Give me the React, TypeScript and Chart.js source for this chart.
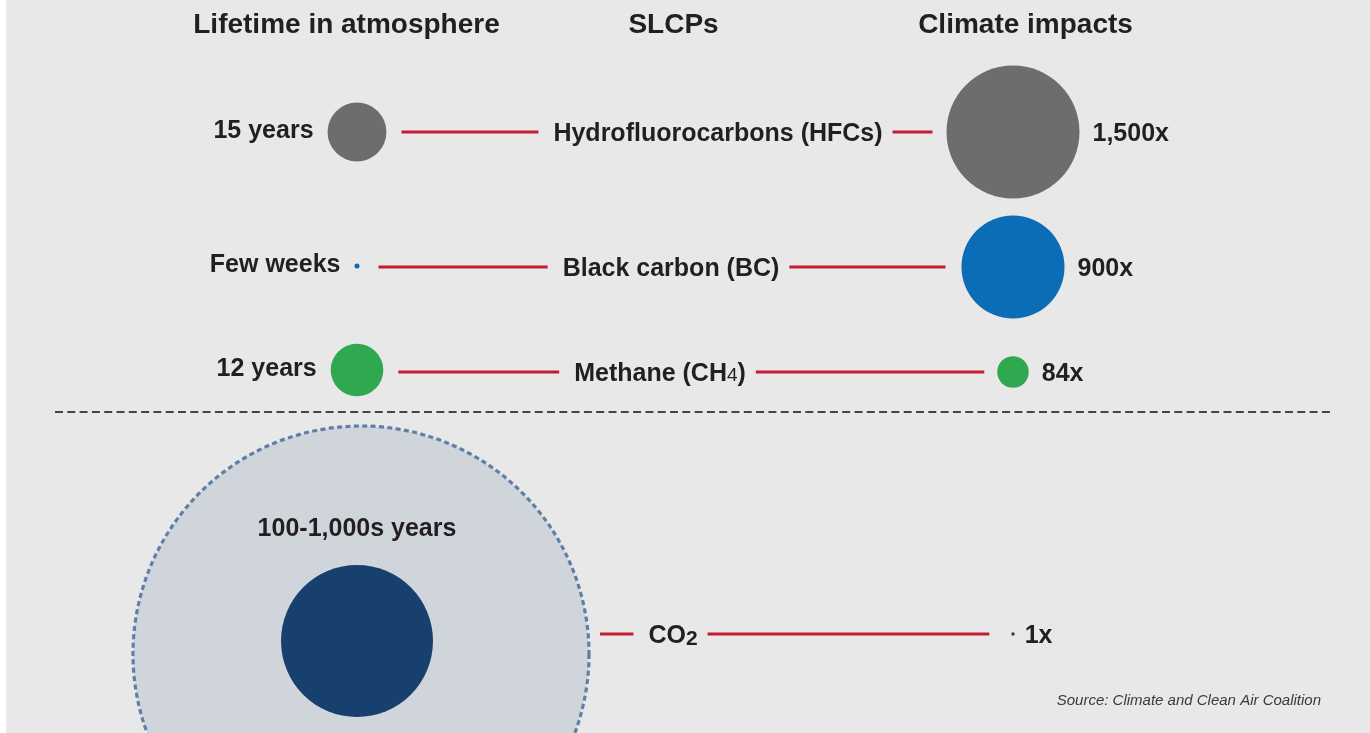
import React, { useEffect, useRef } from 'react';
import { Chart, registerables } from 'chart.js';

Chart.register(...registerables);

// ---------- data ----------
const headers = ['Lifetime in atmosphere', 'SLCPs', 'Climate impacts'];
const slcpNames = ['Hydrofluorocarbons (HFCs)', 'Black carbon (BC)', 'Methane (CH', 'CO'];
const slcpSubscripts = ['', '', '4', '2'];
const slcpSuffixes = ['', '', ')', ''];
const lifetimeLabels = ['15 years', 'Few weeks', '12 years', '100-1,000s years'];
const lifetimeYears = [15, 0.11, 12, 100];
const co2LifetimeMaxYears = 900;
const impactValues = [1500, 900, 84, 1];
const impactLabels = ['1,500x', '900x', '84x', '1x'];
const sourceText = 'Source: Climate and Clean Air Coalition';

// ---------- layout & style ----------
const W = 1370;
const H = 733;
const BG_LEFT = 6;
const COL_LIFE_PX = 357;
const COL_IMPACT_PX = 1013;
const COL_SPAN = COL_IMPACT_PX - COL_LIFE_PX;
const ROW_Y = [132, 267, 372, 634];
const LIFE_Y = [132, 266, 370, 641];
const SLCP_CX = [718, 671, 660, 673];
const LEFT_GAP = [15, 19, 15, 11];
const RIGHT_GAP = [14, 16, 13, 22];
const HEADER_CX = [346.5, 673.5, 1025.5];
const RING_DX = 4;
const RING_Y = 654;
const LIFE_K = 7.6;
const IMPACT_K = 1.717;
const bubbleColors = ['#6d6d6f', '#0b6db5', '#2fa84f', '#17406f'];
const TEXT = '#231f20';
const RED = '#c31c31';
const FONT = "'Liberation Sans', Arial, Helvetica, sans-serif";

const lifeR = lifetimeYears.map((v) => LIFE_K * Math.sqrt(v));
const impactR = impactValues.map((v) => IMPACT_K * Math.sqrt(v));

function measureLabel(ctx: CanvasRenderingContext2D, i: number) {
  ctx.font = `bold 25px ${FONT}`;
  const a = ctx.measureText(slcpNames[i]).width;
  const c = ctx.measureText(slcpSuffixes[i]).width;
  ctx.font = i === 3 ? `bold 21px ${FONT}` : `19px ${FONT}`;
  const b = ctx.measureText(slcpSubscripts[i]).width;
  return { a, b, c, w: a + b + c };
}

const infographic = {
  id: 'infographic',
  beforeDraw(chart: any) {
    const ctx: CanvasRenderingContext2D = chart.ctx;
    ctx.save();
    ctx.fillStyle = '#e8e8e8';
    ctx.fillRect(BG_LEFT, 0, W - BG_LEFT, H);
    ctx.restore();
  },
  beforeDatasetsDraw(chart: any) {
    const ctx: CanvasRenderingContext2D = chart.ctx;
    const xs = chart.scales.x;
    const lifeX = xs.getPixelForValue(0);
    const impX = xs.getPixelForValue(1);
    ctx.save();
    // separator
    ctx.strokeStyle = '#444444';
    ctx.lineWidth = 2;
    ctx.setLineDash([8, 4.3]);
    ctx.beginPath();
    ctx.moveTo(55, 412);
    ctx.lineTo(1333, 412);
    ctx.stroke();
    // CO2 lifetime range ring
    const ringR = LIFE_K * Math.sqrt(co2LifetimeMaxYears);
    const ringX = lifeX + RING_DX;
    ctx.setLineDash([]);
    ctx.fillStyle = '#d0d5dc';
    ctx.beginPath();
    ctx.arc(ringX, RING_Y, ringR, 0, Math.PI * 2);
    ctx.fill();
    ctx.strokeStyle = '#5f7fa6';
    ctx.lineWidth = 3.2;
    ctx.setLineDash([5, 3.4]);
    ctx.stroke();
    // connector lines
    ctx.setLineDash([]);
    ctx.strokeStyle = RED;
    ctx.lineWidth = 3;
    for (let i = 0; i < slcpNames.length; i++) {
      const m = measureLabel(ctx, i);
      const left = SLCP_CX[i] - m.w / 2;
      const right = SLCP_CX[i] + m.w / 2;
      const start = i === 3 ? ringX + ringR + LEFT_GAP[i] : lifeX + lifeR[i] + LEFT_GAP[i];
      const end = impX - impactR[i] - RIGHT_GAP[i];
      ctx.beginPath();
      ctx.moveTo(start, ROW_Y[i]);
      ctx.lineTo(left - 15, ROW_Y[i]);
      ctx.moveTo(right + 10, ROW_Y[i]);
      ctx.lineTo(end, ROW_Y[i]);
      ctx.stroke();
    }
    ctx.restore();
  },
  afterDatasetsDraw(chart: any) {
    const ctx: CanvasRenderingContext2D = chart.ctx;
    const xs = chart.scales.x;
    const lifeX = xs.getPixelForValue(0);
    const impX = xs.getPixelForValue(1);
    ctx.save();
    ctx.fillStyle = TEXT;
    ctx.textBaseline = 'alphabetic';
    // headers
    ctx.font = `bold 28px ${FONT}`;
    ctx.textAlign = 'center';
    headers.forEach((h, i) => ctx.fillText(h, HEADER_CX[i], 33));
    // lifetime labels
    ctx.font = `bold 25px ${FONT}`;
    for (let i = 0; i < 3; i++) {
      ctx.textAlign = 'right';
      ctx.fillText(lifetimeLabels[i], lifeX - lifeR[i] - 14, LIFE_Y[i] + 6);
    }
    ctx.textAlign = 'center';
    ctx.fillText(lifetimeLabels[3], lifeX, 536);
    // impact labels
    ctx.textAlign = 'left';
    for (let i = 0; i < impactLabels.length; i++) {
      const gap = i === 3 ? 10 : 13;
      ctx.fillText(impactLabels[i], impX + impactR[i] + gap, ROW_Y[i] + 9);
    }
    // SLCP labels
    for (let i = 0; i < slcpNames.length; i++) {
      const m = measureLabel(ctx, i);
      let x = SLCP_CX[i] - m.w / 2;
      const base = ROW_Y[i] + 9;
      ctx.textAlign = 'left';
      ctx.font = `bold 25px ${FONT}`;
      ctx.fillText(slcpNames[i], x, base);
      x += m.a;
      if (slcpSubscripts[i]) {
        ctx.font = i === 3 ? `bold 21px ${FONT}` : `19px ${FONT}`;
        ctx.fillText(slcpSubscripts[i], x, base + (i === 3 ? 2 : 0));
        x += m.b;
      }
      if (slcpSuffixes[i]) {
        ctx.font = `bold 25px ${FONT}`;
        ctx.fillText(slcpSuffixes[i], x, base);
      }
    }
    // source
    ctx.font = `italic 15px ${FONT}`;
    ctx.fillStyle = '#3a3a3a';
    ctx.textAlign = 'right';
    ctx.fillText(sourceText, 1321, 705);
    ctx.restore();
  },
};

export default function App() {
  const ref = useRef<HTMLCanvasElement | null>(null);
  useEffect(() => {
    if (!ref.current) return;
    const chart = new Chart(ref.current, {
      type: 'bubble',
      data: {
        datasets: [
          {
            label: 'Lifetime',
            data: lifetimeYears.map((v, i) => ({ x: 0, y: LIFE_Y[i], r: lifeR[i] })),
            backgroundColor: bubbleColors,
            borderWidth: 0,
            clip: false as any,
          },
          {
            label: 'Impact',
            data: impactValues.map((v, i) => ({ x: 1, y: ROW_Y[i], r: impactR[i] })),
            backgroundColor: bubbleColors,
            borderWidth: 0,
            clip: false as any,
          },
        ],
      },
      options: {
        animation: false,
        responsive: false,
        events: [],
        layout: { autoPadding: false, padding: 0 },
        plugins: { legend: { display: false }, tooltip: { enabled: false } },
        scales: {
          x: {
            type: 'linear',
            display: false,
            min: -COL_LIFE_PX / COL_SPAN,
            max: (W - COL_LIFE_PX) / COL_SPAN,
          },
          y: { type: 'linear', display: false, min: 0, max: H, reverse: true },
        },
      },
      plugins: [infographic],
    });
    return () => chart.destroy();
  }, []);
  return (
    <div style={{ position: 'fixed', left: 0, top: 0, width: W, height: H }}>
      <canvas ref={ref} width={W} height={H} style={{ width: W, height: H, display: 'block' }} />
    </div>
  );
}
